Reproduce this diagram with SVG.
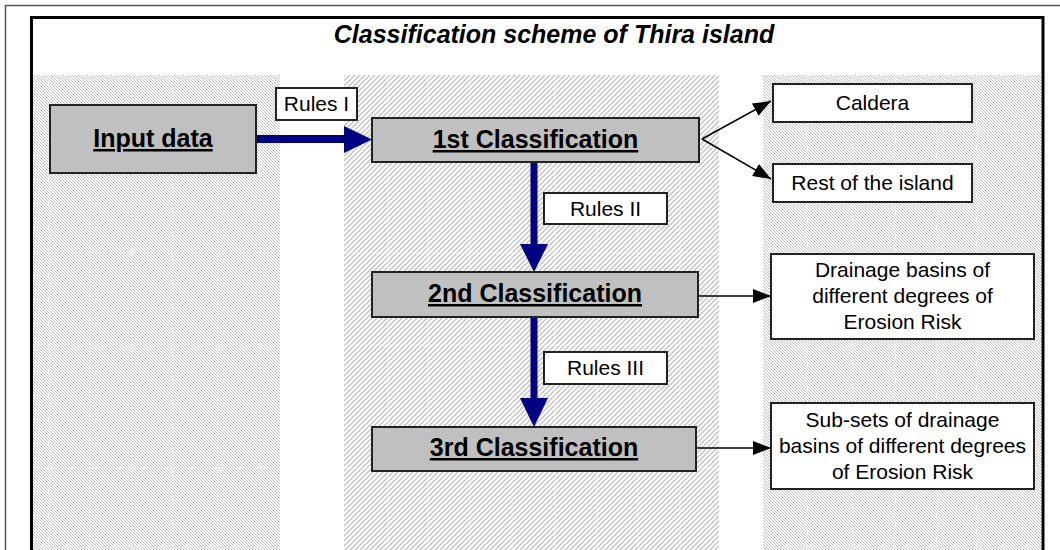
<svg xmlns="http://www.w3.org/2000/svg" width="1060" height="550" viewBox="0 0 1060 550">
  <style>
    .bold { font-family: "Liberation Sans", Arial, sans-serif; font-weight: bold; font-size: 25px; fill: #000; text-anchor: middle; text-decoration: underline; }
    .lbl { font-family: "Liberation Sans", Arial, sans-serif; font-size: 21px; fill: #000; text-anchor: middle; }
    .title { font-family: "Liberation Sans", Arial, sans-serif; font-weight: bold; font-style: italic; font-size: 25px; fill: #000; text-anchor: middle; }
    .gbox { fill: #c0c0c0; stroke: #222; stroke-width: 2; }
    .wbox { fill: #fff; stroke: #222; stroke-width: 2; }
    .blue { stroke: #000080; fill: none; }
    .thin { stroke: #000; stroke-width: 1.5; fill: none; marker-end: url(#ah); }
    .seam { stroke: #fff; stroke-width: 1; opacity: 0.5; }
  </style>
  <defs>
    <pattern id="hatchA" width="3" height="3" patternUnits="userSpaceOnUse">
      <rect width="3" height="3" fill="#fff"/>
      <path d="M-1,-1 L4,4 M-1,2 L1,4 M2,-1 L4,1" stroke="#bdbdbd" stroke-width="1"/>
    </pattern>
    <pattern id="hatchB" width="5" height="5" patternUnits="userSpaceOnUse">
      <rect width="5" height="5" fill="#fff"/>
      <path d="M-1,6 L6,-1 M-1,1 L1,-1 M4,6 L6,4" stroke="#c4c4c4" stroke-width="1.5"/>
    </pattern>
    <marker id="ah" markerWidth="18" markerHeight="14" refX="18" refY="7" orient="auto" markerUnits="userSpaceOnUse">
      <path d="M0,0 L18,7 L0,14 Z" fill="#000"/>
    </marker>
  </defs>

  <rect x="0" y="0" width="1060" height="550" fill="#fff"/>
  <!-- outer frame -->
  <rect x="5.5" y="5.5" width="1100" height="600" fill="none" stroke="#555" stroke-width="1.5"/>
  <rect x="31.5" y="17.5" width="1011.5" height="600" fill="#fff" stroke="#000" stroke-width="3"/>

  <!-- hatched columns -->
  <g id="columns">
    <rect x="33" y="75" width="247" height="480" fill="url(#hatchA)"/>
    <rect x="344" y="75" width="375" height="480" fill="url(#hatchB)"/>
    <rect x="763" y="75" width="278" height="480" fill="url(#hatchA)"/>
    <g class="seam">
      <path d="M49,75 V550 M90,75 V550 M132,75 V550 M173,75 V550 M218,75 V550 M260,75 V550"/>
      <path d="M388,75 V550 M428,75 V550 M470,75 V550 M512,75 V550 M555,75 V550 M597,75 V550 M638,75 V550 M680,75 V550"/>
      <path d="M807,75 V550 M853,75 V550 M895,75 V550 M937,75 V550 M977,75 V550 M1022,75 V550"/>
      <path d="M33,130 H280 M33,253 H280 M33,345 H280 M33,468 H280"/>
      <path d="M344,130 H719 M344,253 H719 M344,345 H719 M344,468 H719"/>
      <path d="M763,130 H1041 M763,253 H1041 M763,345 H1041 M763,468 H1041"/>
    </g>
  </g>

  <text class="title" x="554" y="43">Classification scheme of Thira island</text>

  <!-- connectors -->
  <g id="connectors">
    <line class="blue" x1="256" y1="139" x2="346" y2="139" stroke-width="8"/>
    <path d="M344,126 L372,139.5 L344,153 Z" fill="#000080"/>
    <line class="blue" x1="534" y1="162" x2="534" y2="246" stroke-width="7"/>
    <path d="M520,244 L548,244 L534,272 Z" fill="#000080"/>
    <line class="blue" x1="534" y1="317" x2="534" y2="400" stroke-width="7"/>
    <path d="M520,398 L548,398 L534,427 Z" fill="#000080"/>
    <line class="thin" x1="702" y1="139" x2="771" y2="101"/>
    <line class="thin" x1="702" y1="139" x2="771" y2="179"/>
    <line class="thin" x1="698" y1="296" x2="771" y2="296"/>
    <line class="thin" x1="696" y1="448" x2="771" y2="448"/>
  </g>

  <g id="input">
    <rect class="gbox" x="50" y="105" width="206" height="68"/>
    <text class="bold" x="153" y="147">Input data</text>
  </g>
  <g id="rules1">
    <rect class="wbox" x="276" y="88" width="81" height="32"/>
    <text class="lbl" x="316.5" y="111">Rules I</text>
  </g>
  <g id="class1">
    <rect class="gbox" x="372" y="118" width="327" height="44"/>
    <text class="bold" x="535.5" y="148">1st Classification</text>
  </g>
  <g id="rules2">
    <rect class="wbox" x="544" y="193" width="123" height="31"/>
    <text class="lbl" x="605.5" y="216">Rules II</text>
  </g>
  <g id="class2">
    <rect class="gbox" x="372" y="272" width="326" height="45"/>
    <text class="bold" x="535" y="302">2nd Classification</text>
  </g>
  <g id="rules3">
    <rect class="wbox" x="544" y="352" width="123" height="32"/>
    <text class="lbl" x="605.5" y="375">Rules III</text>
  </g>
  <g id="class3">
    <rect class="gbox" x="372" y="427" width="324" height="44"/>
    <text class="bold" x="534" y="456">3rd Classification</text>
  </g>
  <g id="caldera">
    <rect class="wbox" x="773" y="84" width="199" height="38"/>
    <text class="lbl" x="872.5" y="110">Caldera</text>
  </g>
  <g id="rest">
    <rect class="wbox" x="773" y="164" width="199" height="38"/>
    <text class="lbl" x="872.5" y="190">Rest of the island</text>
  </g>
  <g id="drainage">
    <rect class="wbox" x="771" y="254" width="263" height="85"/>
    <text class="lbl" x="902.5" y="277">Drainage basins of</text>
    <text class="lbl" x="902.5" y="303">different degrees of</text>
    <text class="lbl" x="902.5" y="329">Erosion Risk</text>
  </g>
  <g id="subsets">
    <rect class="wbox" x="771" y="403" width="263" height="86"/>
    <text class="lbl" x="902.5" y="427">Sub-sets of drainage</text>
    <text class="lbl" x="902.5" y="453">basins of different degrees</text>
    <text class="lbl" x="902.5" y="479">of Erosion Risk</text>
  </g>
</svg>
